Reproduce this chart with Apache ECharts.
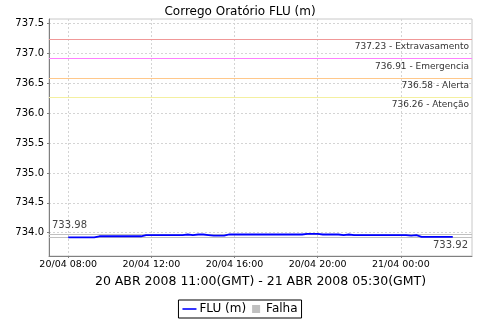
<!DOCTYPE html>
<html><head><meta charset="utf-8">
<script src="https://cdn.jsdelivr.net/npm/echarts@6/dist/echarts.min.js"></script>
<style>html,body{margin:0;padding:0;background:#fff}#c{width:480px;height:320px}</style>
</head><body><div id="c"></div>
<script>
const chartTitle = 'Corrego Oratório FLU (m)';
const xAxisTitle = '20 ABR 2008 11:00(GMT) - 21 ABR 2008 05:30(GMT)';
const seriesNames = ['FLU (m)', 'Falha'];
// readings every 15 minutes from 20/04 08:00 to 21/04 02:30
const startTime = Date.UTC(2008, 3, 20, 8, 0);
const stepMs = 15 * 60 * 1000;
const fluValues = [
  733.92, 733.92, 733.92, 733.92, 733.92, 733.92,
  733.94, 733.94, 733.94, 733.94, 733.94, 733.94, 733.94, 733.94, 733.94,
  733.96, 733.96, 733.96, 733.96, 733.96, 733.96, 733.96, 733.96,
  733.97, 733.96, 733.97, 733.97, 733.96,
  733.95, 733.95, 733.95,
  733.97, 733.97, 733.97, 733.97, 733.97, 733.97, 733.97, 733.97, 733.97, 733.97, 733.97, 733.97, 733.97, 733.97, 733.97,
  733.98, 733.98, 733.98,
  733.97, 733.97, 733.97, 733.97,
  733.96, 733.97,
  733.96, 733.96, 733.96, 733.96, 733.96, 733.96, 733.96, 733.96, 733.96, 733.96, 733.96,
  733.95, 733.96,
  733.93, 733.93, 733.93, 733.93, 733.93, 733.93, 733.93
];
const thresholdNames = ['Extravasamento', 'Emergencia', 'Alerta', 'Atenção'];
const thresholdValues = [737.23, 736.91, 736.58, 736.26];
const thresholdColors = ['#f09898', '#ff80ff', '#ffc88a', '#f4f0a0'];
const maxValue = 733.98;
const minValue = 733.92;
const yTickValues = [734.0, 734.5, 735.0, 735.5, 736.0, 736.5, 737.0, 737.5];
const xTickLabels = ['20/04 08:00', '20/04 12:00', '20/04 16:00', '20/04 20:00', '21/04 00:00'];

function parseTick(s) {
  const d = +s.slice(0, 2), m = +s.slice(3, 5), h = +s.slice(6, 8), mi = +s.slice(9, 11);
  return Date.UTC(2008, m - 1, d, h, mi);
}
const xTickTimes = xTickLabels.map(parseTick);
// hours relative to first reading keep the numbers small
const toHours = t => (t - startTime) / 3600000;
const xTickHours = xTickTimes.map(toHours);
const seriesData = fluValues.map((v, i) => [toHours(startTime + i * stepMs), v]);
const endHours = toHours(startTime + (fluValues.length - 1) * stepMs);
const pad = endHours * 0.05;

const FONT = 'DejaVu Sans';
const markData = thresholdValues.map((v, i) => ({
  yAxis: v,
  lineStyle: { color: thresholdColors[i], type: 'solid', width: 1 },
  label: { show: true, position: 'insideEndBottom', formatter: v.toFixed(2) + ' - ' + thresholdNames[i],
    color: '#333', fontFamily: FONT, fontSize: 9, distance: [3, 3] }
}));
markData.push({
  yAxis: maxValue,
  lineStyle: { color: '#c0c0c0', type: 'solid', width: 1 },
  label: { show: true, position: 'insideStartTop', formatter: maxValue.toFixed(2),
    color: '#444', fontFamily: FONT, fontSize: 10, distance: [3, 3] }
});
markData.push({
  yAxis: minValue,
  lineStyle: { color: '#c0c0c0', type: 'solid', width: 1 },
  label: { show: true, position: 'insideEndBottom', formatter: minValue.toFixed(2),
    color: '#444', fontFamily: FONT, fontSize: 10, distance: [4, 3] }
});

const chart = echarts.init(document.getElementById('c'), null, { renderer: 'canvas' });
chart.setOption({
  animation: false,
  backgroundColor: '#fff',
  textStyle: { fontFamily: FONT },
  title: { text: chartTitle, left: 'center', top: 1,
    textStyle: { fontFamily: FONT, fontSize: 12, fontWeight: 'normal', color: '#000' } },
  legend: {
    bottom: 2, left: 'center', borderColor: '#000', borderWidth: 1, borderRadius: 0,
    padding: [3, 4, 3, 4], itemGap: 6, itemWidth: 14, itemHeight: 8,
    textStyle: { fontFamily: FONT, fontSize: 12, color: '#000', padding: [0, 0, 0, -2] },
    data: [
      { name: seriesNames[0], icon: 'path://M0,0H14V1.6H0Z', itemStyle: { color: '#0000ff' } },
      { name: seriesNames[1], icon: 'path://M0,0H10V10H0Z', itemStyle: { color: '#c0c0c0' } }
    ]
  },
  grid: { left: 49, right: 8, top: 19, bottom: 64, show: true, borderColor: '#c8c8c8', borderWidth: 1 },
  xAxis: {
    type: 'value', min: -pad, max: endHours + pad,
    name: xAxisTitle, nameLocation: 'middle', nameGap: 19,
    nameTextStyle: { fontFamily: FONT, fontSize: 12.5, color: '#000' },
    axisLine: { onZero: false, lineStyle: { color: '#808080' } },
    axisTick: { show: true, length: 2, customValues: xTickHours, lineStyle: { color: '#808080' } },
    axisLabel: { customValues: xTickHours, fontFamily: FONT, fontSize: 9.5, color: '#000', margin: 4,
      formatter: v => xTickLabels[xTickHours.indexOf(v)] || '' },
    splitLine: { show: true, lineStyle: { color: '#d4d4d4', type: [2, 2] } }
  },
  yAxis: {
    type: 'value', min: 733.61, max: 737.575,
    axisLine: { show: true, onZero: false, lineStyle: { color: '#808080' } },
    axisTick: { show: true, length: 2, customValues: yTickValues, lineStyle: { color: '#808080' } },
    axisLabel: { customValues: yTickValues, fontFamily: FONT, fontSize: 10, color: '#000', margin: 5,
      formatter: v => v.toFixed(1) },
    splitLine: { show: true, lineStyle: { color: '#d4d4d4', type: [2, 2] } }
  },
  series: [
    {
      name: seriesNames[1], type: 'line', data: [], symbol: 'none', z: 1,
      itemStyle: { color: '#c0c0c0' }, lineStyle: { color: '#c0c0c0' },
      markLine: { silent: true, symbol: ['none', 'none'], animation: false, data: markData }
    },
    {
      name: seriesNames[0], type: 'line', data: seriesData, symbol: 'none', z: 5,
      lineStyle: { color: '#0000ff', width: 1.8 }, itemStyle: { color: '#0000ff' }
    }
  ]
});
</script></body></html>
